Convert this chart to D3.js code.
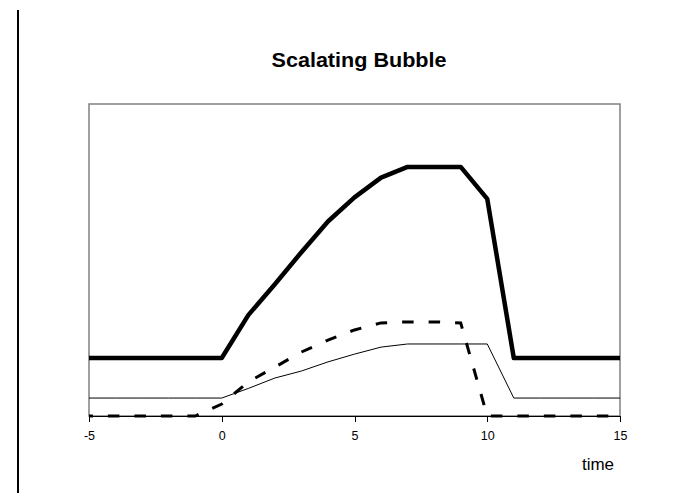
<!DOCTYPE html>
<html>
<head>
<meta charset="utf-8">
<script src="https://cdn.jsdelivr.net/npm/d3@7"></script>
<style>
  body { margin: 0; background: #fff; }
  svg { display: block; font-family: "Liberation Sans", Arial, sans-serif; }
  .axis path, .axis line { stroke: #000; shape-rendering: crispEdges; }
  .axis text { font-size: 12.5px; fill: #000; }
</style>
</head>
<body>
<svg id="chart" width="696" height="493"></svg>
<script>
// time steps along x
var times = [-5, -4, -3, -2, -1, 0, 1, 2, 3, 4, 5, 6, 7, 8, 9, 10, 11, 12, 13, 14, 15];

// thick solid line
var bubble = [2.23, 2.23, 2.23, 2.23, 2.23, 2.23, 3.88, 5.07, 6.30, 7.48, 8.41, 9.17, 9.58, 9.58, 9.58, 8.35, 2.23, 2.23, 2.23, 2.23, 2.23];
// thin solid line
var thinLine = [0.69, 0.69, 0.69, 0.69, 0.69, 0.69, 1.06, 1.46, 1.73, 2.08, 2.38, 2.65, 2.77, 2.77, 2.77, 2.77, 0.69, 0.69, 0.69, 0.69, 0.69];
// dashed line
var dashLine = [0, 0, 0, 0, 0, 0.46, 1.31, 1.88, 2.46, 2.92, 3.31, 3.58, 3.62, 3.62, 3.58, 0, 0, 0, 0, 0, 0];

var xTicks = [-5, 0, 5, 10, 15];

var svg = d3.select("#chart");

var margin = {top: 104, right: 76, bottom: 77, left: 89},
    width = 696 - margin.left - margin.right,
    height = 493 - margin.top - margin.bottom;

// left page rule
svg.append("line")
    .attr("x1", 18).attr("x2", 18)
    .attr("y1", 10).attr("y2", 493)
    .attr("stroke", "#000")
    .attr("stroke-width", 2);

svg.append("text")
    .attr("x", 359)
    .attr("y", 67)
    .attr("text-anchor", "middle")
    .attr("textLength", 175)
    .attr("lengthAdjust", "spacingAndGlyphs")
    .style("font-size", "21px")
    .style("font-weight", "bold")
    .text("Scalating Bubble");

var g = svg.append("g")
    .attr("transform", "translate(" + margin.left + "," + margin.top + ")");

var x = d3.scaleLinear().domain([-5, 15]).range([0, width]);
var y = d3.scaleLinear().domain([0, 12]).range([height, 0]);

// plot area frame
g.append("rect")
    .attr("x", 0).attr("y", 0)
    .attr("width", width).attr("height", height)
    .attr("fill", "none")
    .attr("stroke", "#808080")
    .attr("stroke-width", 1.5);

var line = function(vals) {
  return d3.line()
      .x(function(d, i) { return x(times[i]); })
      .y(function(d) { return y(d); })(vals);
};

g.append("path")
    .attr("d", line(thinLine))
    .attr("fill", "none")
    .attr("stroke", "#000")
    .attr("stroke-width", 1);

g.append("path")
    .attr("d", line(bubble))
    .attr("fill", "none")
    .attr("stroke", "#000")
    .attr("stroke-width", 4.5)
    .attr("stroke-linejoin", "round");

var axis = g.append("g")
    .attr("class", "axis")
    .attr("transform", "translate(0," + height + ")")
    .call(d3.axisBottom(x).tickValues(xTicks).tickSize(6).tickSizeOuter(0)
      .tickPadding(9).tickFormat(function(d) { return String(d); }));
axis.select(".domain").attr("stroke-width", 1.5);

g.append("path")
    .attr("d", line(dashLine))
    .attr("fill", "none")
    .attr("stroke", "#000")
    .attr("stroke-width", 3)
    .attr("stroke-dasharray", "11.5,15")
    .attr("stroke-dashoffset", 7.6);

svg.append("text")
    .attr("x", 598)
    .attr("y", 470)
    .attr("text-anchor", "middle")
    .style("font-size", "17px")
    .text("time");
</script>
</body>
</html>
